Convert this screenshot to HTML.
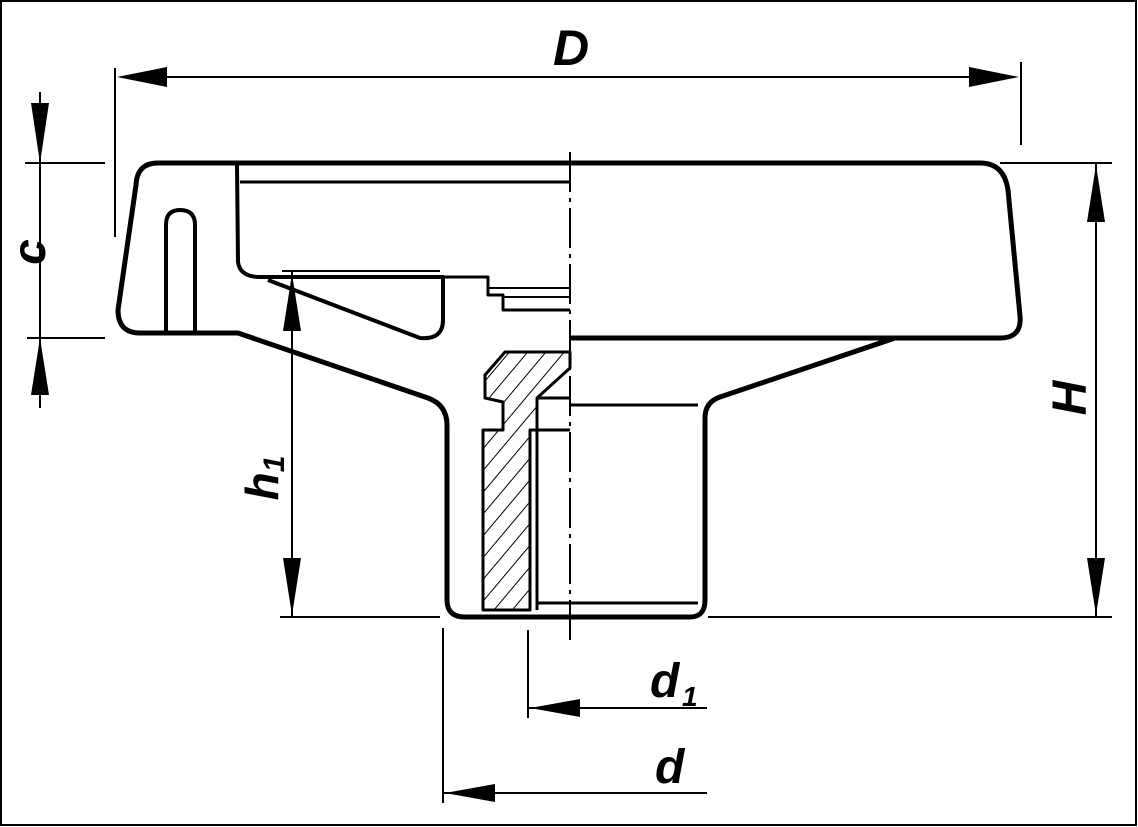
<!DOCTYPE html>
<html><head><meta charset="utf-8"><style>
html,body{margin:0;padding:0;background:#fff;width:1138px;height:827px;overflow:hidden}
svg{display:block}
text{font-family:"Liberation Sans",sans-serif;font-weight:bold;font-style:italic;fill:#000}
</style></head><body>
<svg width="1138" height="827" viewBox="0 0 1138 827">
<defs>
<pattern id="h" width="14" height="14" patternUnits="userSpaceOnUse" patternTransform="rotate(40)">
<line x1="0" y1="0" x2="0" y2="14" stroke="#000" stroke-width="2"/>
</pattern>
</defs>
<rect x="1" y="1" width="1135" height="824" fill="none" stroke="#000" stroke-width="2"/>
<g fill="none" stroke="#000" stroke-linejoin="round">
<path d="M570,163 L158,163 Q137,163 136,185 L118,310 Q118,333 140,333 L238,333 L428,398 Q447,405 447,425 L447,600 Q447,617 465,617 L690,617 Q705,617 705,600 L705,418 Q705,402 720,397 L895,338 L1000,338 Q1022,338 1020,316 L1008,190 Q1004,163 980,163 L570,163" stroke-width="5"/>
<path d="M570,338 L895,338" stroke-width="5"/>
<path d="M166,333 L166,225 Q166,210 180,210 Q195,210 195,225 L195,333" stroke-width="4"/>
<path d="M237,165 L238,262 Q240,277 260,277 L443,277 L443,320 Q443,340 420,338 L268,280" stroke-width="4"/>
<path d="M240,182 L570,182" stroke-width="3"/>
<path d="M282,271 L440,271" stroke-width="2"/>
<path d="M443,277 L488,277 L488,295 L503,295 L503,310 L570,310" stroke-width="3"/>
<path d="M488,288 L570,288 M503,297 L570,297" stroke-width="2"/>
<path d="M485,398 L485,375 L505,352 L570,352 L570,368 L537,398 L537,430 L530,430 L530,610 L483,610 L483,430 L503,430 L503,402 Z" fill="url(#h)" stroke-width="3"/>
<path d="M537,398 L570,398 M537,430 L570,430 M537,398 L537,610" stroke-width="3"/>
<path d="M570,405 L698,405" stroke-width="3"/>
<path d="M537,603 L698,603" stroke-width="3"/>
<path d="M570,152 L570,640" stroke-width="2" stroke-dasharray="40,6,4,6"/>
<g stroke-width="2">
<path d="M115,68 L115,237 M1021,62 L1021,145"/>
<path d="M140,77 L1000,77"/>
<path d="M25,163 L105,163 M27,338 L105,338 M40,92 L40,408"/>
<path d="M1000,163 L1112,163 M708,617 L1112,617 M1096,163 L1096,617"/>
<path d="M292,272 L292,617 M280,617 L440,617"/>
<path d="M528,630 L528,718 M528,708 L707,708"/>
<path d="M443,628 L443,803 M443,793 L707,793"/>
</g>
</g>
<g fill="#000">
<polygon points="117,77 167,67 167,87"/>
<polygon points="1019,77 969,67 969,87"/>
<polygon points="40,163 31,103 49,103"/>
<polygon points="40,338 31,395 49,395"/>
<polygon points="1096,165 1087,222 1105,222"/>
<polygon points="1096,615 1087,558 1105,558"/>
<polygon points="292,274 283,331 301,331"/>
<polygon points="292,615 283,558 301,558"/>
<polygon points="530,708 580,699 580,717"/>
<polygon points="445,793 495,784 495,802"/>
</g>
<text x="553" y="65" font-size="50">D</text>
<text x="650" y="697" font-size="48">d</text>
<text x="682" y="706" font-size="28">1</text>
<text x="655" y="783" font-size="48">d</text>
<text transform="translate(45,252) rotate(-90)" font-size="46" text-anchor="middle">c</text>
<text transform="translate(1086,398) rotate(-90)" font-size="48" text-anchor="middle">H</text>
<text transform="translate(278,478) rotate(-90)" font-size="46" text-anchor="middle">h<tspan font-size="30" dy="6">1</tspan></text>
</svg>
</body></html>
